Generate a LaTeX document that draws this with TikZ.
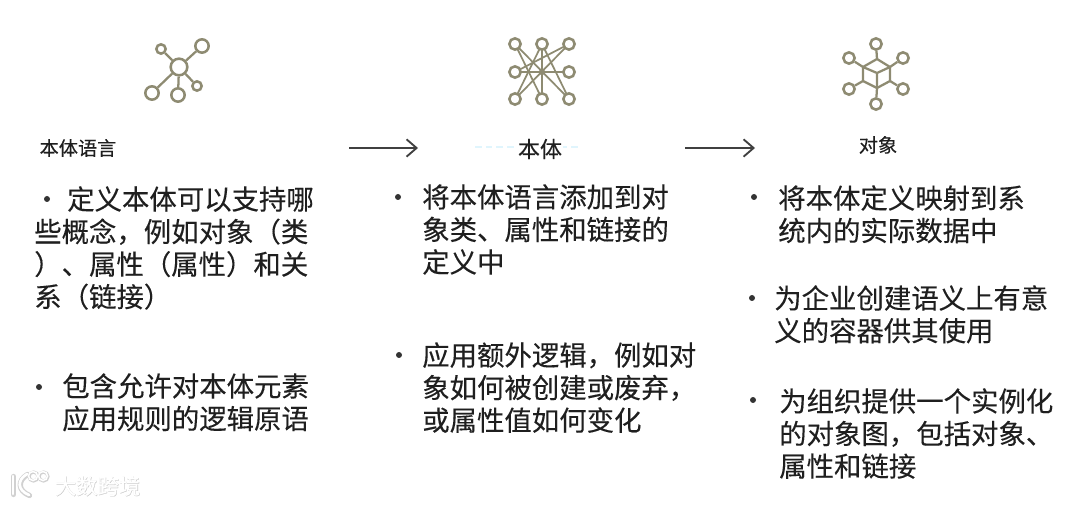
\documentclass[tikz,border=0pt]{standalone}
\usepackage{fontspec}
\setmainfont{Noto Sans CJK SC}[FakeBold=0.22]
\newfontfamily\headfont{Noto Sans CJK SC}[FakeBold=0.35]
\newfontfamily\markfont{Noto Sans CJK SC}[FakeBold=0.6]
\definecolor{iconcol}{HTML}{8E8B72}
\usetikzlibrary{arrows.meta}
\tikzset{
  body/.style={anchor=north west,inner sep=0pt,align=left,text=black!88,font=\fontsize{20.55}{24.4}\selectfont},
  head/.style={inner sep=0pt,text=black!88,font=\headfont\fontsize{14.4}{16}\selectfont},
  dot/.style={inner sep=0pt,circle,fill=black!80,minimum size=4.5pt},
  big/.style={circle,draw=iconcol,fill=white,line width=1.9pt,inner sep=0pt,minimum size=#1},
  link/.style={draw=iconcol,line width=1.7pt},
  flow/.style={->,>={Straight Barb[length=7.5pt,width=13pt]},black!75,line width=1.4pt},
}
\begin{document}
\begin{tikzpicture}[x=0.75pt,y=-0.75pt]
\useasboundingbox (0,0) rectangle (1080,505);
% first icon
\node[big=12.5pt] (hub) at (179,67) {};
\foreach \nm/\px/\py/\sz in {na/161/49/7pt,nb/202/46/10pt,nc/152/93/10pt,nd/178/95/10pt,ne/197/86/7pt}
  {\node[big=\sz] (\nm) at (\px,\py) {};
   \draw[link] (hub)--(\nm);}
% second icon
\coordinate (gm) at (542,72);
\foreach \nm/\px/\py in {ga/515/44,gb/542/44,gc/569/44,gd/515/72,ge/569/72,gf/515/99,gg/542/99,gh/569/99}
  \coordinate (\nm) at (\px,\py);
\foreach \p/\q in {ga/gh,gc/gf,gb/gg,gd/ge,gb/gf,gb/gh,gd/gc,ga/gg}
  \draw[link,line width=1.3pt] (\p)--(\q);
\foreach \nm in {ga,gb,gc,gd,ge,gf,gg,gh}
  \node[big=8.5pt] at (\nm) {};
\fill[iconcol] (gm) circle (2.4pt);
% third icon
\coordinate (ca) at (877,59);
\coordinate (cb) at (890,67);
\coordinate (cc) at (890,81);
\coordinate (cd) at (877,88);
\coordinate (ce) at (863,81);
\coordinate (cf) at (863,67);
\coordinate (cm) at (877,73);
\draw[link] (ca)--(cb)--(cc)--(cd)--(ce)--(cf)--cycle;
\draw[link] (cm)--(cf) (cm)--(cb) (cm)--(cd);
\foreach \nm/\px/\py/\cn in {sa/876/44/ca,sb/903/58/cb,sc/903/89/cc,sd/876/104/cd,se/849/89/ce,sf/849/58/cf}
  {\node[big=8.5pt] (\nm) at (\px,\py) {};
   \draw[link] (\nm)--(\cn);}
% headers
\node[head] (langhead) at (78,148) {本体语言};
\draw[cyan!12,line width=1pt,dash pattern=on 5pt off 3pt] (475,147)--(578,147);
\node[head,fill=white,inner sep=1pt,font=\headfont\fontsize{16.5}{18}\selectfont] (onthead) at (540,149) {本体};
\node[head] (objhead) at (878,145) {对象};
% arrows
\coordinate (ar1s) at (349,148);
\coordinate (ar1e) at (418,148);
\coordinate (ar2s) at (685,148);
\coordinate (ar2e) at (755,148);
\draw[flow] (ar1s)--(ar1e);
\draw[flow] (ar2s)--(ar2e);
% left column
\node[dot] (b1) at (47,199) {};
\node[body] (t1) at (34,186) {\hspace*{24.7pt}定义本体可以支持哪\\些概念，例如对象（类\\）、属性（属性）和关\\系（链接）};
\node[dot] (b2) at (39,387) {};
\node[body] (t2) at (62,373) {包含允许对本体元素\\应用规则的逻辑原语};
% middle column
\node[dot] (b3) at (398,197) {};
\node[body] (t3) at (422,184) {将本体语言添加到对\\象类、属性和链接的\\定义中};
\node[dot] (b4) at (399,355) {};
\node[body] (t4) at (422,342) {应用额外逻辑，例如对\\象如何被创建或废弃，\\或属性值如何变化};
% right column
\node[dot] (b5) at (754,197) {};
\node[body] (t5) at (778,185) {将本体定义映射到系\\统内的实际数据中};
\node[dot] (b6) at (752,298) {};
\node[body] (t6) at (774,285) {为企业创建语义上有意\\义的容器供其使用};
\node[dot] (b7) at (753,400) {};
\node[body] (t7) at (779,388) {为组织提供一个实例化\\的对象图，包括对象、\\属性和链接};
% watermark
\foreach \col/\wd/\off in {black!18/4pt/0.5,white/2pt/0}
  {\draw[\col,line width=\wd,line cap=round] (13+\off,476+\off)--(13+\off,494+\off);
   \draw[\col,line width=\wd,line cap=round] (27+\off,474+\off) .. controls (17+\off,480+\off) and (17+\off,490+\off) .. (29+\off,495+\off);
   \draw[\col,line width=\wd*0.6] (33+\off,476+\off) circle (4.5);
   \draw[\col,line width=\wd*0.6] (43+\off,476+\off) circle (4.5);}
\node[inner sep=0pt,text=black!22,font=\markfont\fontsize{16}{18}\selectfont] (wmshadow) at (98,486.5) {大数跨境};
\node[inner sep=0pt,text=white,font=\fontsize{16}{18}\selectfont] (wmark) at (97.5,486) {大数跨境};
\end{tikzpicture}
\end{document}
